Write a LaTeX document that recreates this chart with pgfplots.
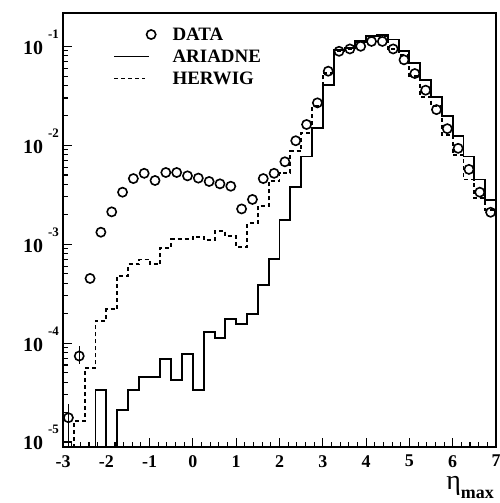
\documentclass[border=0pt]{standalone}
\usepackage{pgfplots}
\pgfplotsset{compat=1.18}
\usepackage{fontspec}
\setmainfont{Liberation Serif}
\newcommand{\ylab}[1]{\fontsize{20}{20}\selectfont\bfseries 10\hspace{5bp}\raisebox{16bp}{\fontsize{13}{13}\selectfont #1}}
\begin{document}
\begin{tikzpicture}
\path[use as bounding box] (0,0) rectangle (500bp,503bp);
\begin{axis}[
  at={(63bp,56bp)}, anchor=south west,
  scale only axis, width=433bp, height=434bp,
  xmin=-3, xmax=7, ymode=log, ymin=8.9e-6, ymax=0.217,
  axis line style={line width=1.6bp},
  tick style={line width=1.1bp, black},
  major tick length=9bp, minor tick length=5bp,
  tick align=inside, tick pos=left,
  xtick={-3,-2,-1,0,1,2,3,4,5,6,7},
  xticklabels={-3,-2,-1,0,1,2,3,4,5,6,7},
  minor x tick num=4,
  xticklabel style={font=\fontsize{18}{18}\selectfont\bfseries, inner sep=0pt, yshift=-8bp},
  ytick={1e-5,1e-4,1e-3,1e-2,1e-1},
  yticklabels={\ylab{-5},\ylab{-4},\ylab{-3},\ylab{-2},\ylab{-1}},
  yticklabel style={anchor=base east, inner sep=0pt, xshift=-4bp, yshift=-8bp},
  xlabel={{\fontsize{28}{28}\selectfont η}\raisebox{-9bp}{\fontsize{18}{18}\selectfont\bfseries max}},
  xlabel style={at={(axis description cs:1,0)}, anchor=north east, inner sep=0pt, xshift=-2bp, yshift=-29bp},
  legend cell align=left,
  legend style={at={(axis description cs:0.1155,0.967)}, anchor=north west, draw=none, fill=none,
    inner sep=0pt, column sep=16bp, row sep=8bp,
    nodes={inner sep=0pt, font=\fontsize{19}{19}\selectfont\bfseries}},
]
\addplot[only marks, mark=o, mark size=4.6bp, mark options={line width=1.6bp, fill=white},
  error bars/.cd, y dir=both, y explicit, error mark=none,
  error bar style={line width=1.4bp},
  /pgfplots/legend image code/.code={\path[draw=none] (0bp,0bp) rectangle (40bp,0bp); \draw[line width=1.6bp, solid] (37bp,0bp) circle (4.6bp);}]
coordinates {
(-2.875,1.76e-5) += (0,0.64e-5) -= (0,0.9e-5)
(-2.625,7.4e-5) += (0,1.9e-5) -= (0,1.3e-5)
(-2.375,4.5e-4) (-2.125,1.32e-3) (-1.875,2.12e-3) (-1.625,3.35e-3)
(-1.375,4.6e-3) (-1.125,5.2e-3) (-0.875,4.4e-3) (-0.625,5.3e-3)
(-0.375,5.3e-3) (-0.125,4.9e-3) (0.125,4.65e-3) (0.375,4.3e-3)
(0.625,4.07e-3) (0.875,3.85e-3) (1.125,2.27e-3) (1.375,2.83e-3)
(1.625,4.6e-3) (1.875,5.2e-3) (2.125,6.8e-3) (2.375,1.11e-2)
(2.625,1.62e-2) (2.875,2.68e-2) (3.125,5.6e-2) (3.375,8.9e-2)
(3.625,9.4e-2) (3.875,0.1) (4.125,0.112) (4.375,0.112)
(4.625,0.094) (4.875,0.073) (5.125,0.053) (5.375,0.036)
(5.625,0.0229) (5.875,0.0147) (6.125,0.0093) (6.375,0.0057)
(6.625,0.00335) (6.875,0.0021)
};
\addlegendentry{DATA}
\addplot[const plot mark left, line width=1.9bp, no marks,
  legend image code/.code={\path[draw=none] (0bp,0bp) rectangle (40bp,0bp); \draw[line width=1.9bp] (0bp,0bp) -- (35bp,0bp);}]
coordinates {
(-3.0,1e-7) (-2.75,1e-7) (-2.5,1e-7) (-2.25,3.35e-5) (-2.0,1e-7)
(-1.75,2.1e-5) (-1.5,3.35e-5) (-1.25,4.58e-5) (-1.0,4.58e-5) (-0.75,6.95e-5)
(-0.5,4.23e-5) (-0.25,7.7e-5) (0.0,3.35e-5) (0.25,1.29e-4) (0.5,1.13e-4)
(0.75,1.76e-4) (1.0,1.55e-4) (1.25,1.98e-4) (1.5,3.9e-4) (1.75,7.1e-4)
(2.0,1.74e-3) (2.25,3.77e-3) (2.5,7.7e-3) (2.75,0.015) (3.0,0.041)
(3.25,0.0926) (3.5,0.096) (3.75,0.112) (4.0,0.126) (4.25,0.131)
(4.5,0.117) (4.75,0.089) (5.0,0.068) (5.25,0.046) (5.5,0.031)
(5.75,0.0196) (6.0,0.0123) (6.25,0.0077) (6.5,0.0045) (6.75,0.0028)
(7.0,0.0028)
};
\addlegendentry{ARIADNE}
\addplot[const plot mark left, line width=1.9bp, no marks, dash pattern=on 4bp off 3bp,
  legend image code/.code={\path[draw=none] (0bp,0bp) rectangle (40bp,0bp); \draw[line width=1.9bp, dash pattern=on 4bp off 3bp] (0bp,0bp) -- (31bp,0bp);}]
coordinates {
(-3.0,1e-7) (-2.75,1.63e-5) (-2.5,5.6e-5) (-2.25,1.67e-4) (-2.0,2.19e-4)
(-1.75,4.75e-4) (-1.5,6.24e-4) (-1.25,7.0e-4) (-1.0,6.24e-4) (-0.75,9.2e-4)
(-0.5,1.12e-3) (-0.25,1.12e-3) (0.0,1.19e-3) (0.25,1.1e-3) (0.5,1.35e-3)
(0.75,1.2e-3) (1.0,9.4e-4) (1.25,1.62e-3) (1.5,2.42e-3) (1.75,4.33e-3)
(2.0,5.26e-3) (2.25,8.7e-3) (2.5,0.0133) (2.75,0.0248) (3.0,0.054)
(3.25,0.089) (3.5,0.094) (3.75,0.11) (4.0,0.126) (4.25,0.128)
(4.5,0.093) (4.75,0.082) (5.0,0.0498) (5.25,0.031) (5.5,0.0248)
(5.75,0.0128) (6.0,0.0079) (6.25,0.0045) (6.5,0.0029) (6.75,0.0022)
(7.0,0.0022)
};
\addlegendentry{HERWIG}
\end{axis}
\end{tikzpicture}
\end{document}
